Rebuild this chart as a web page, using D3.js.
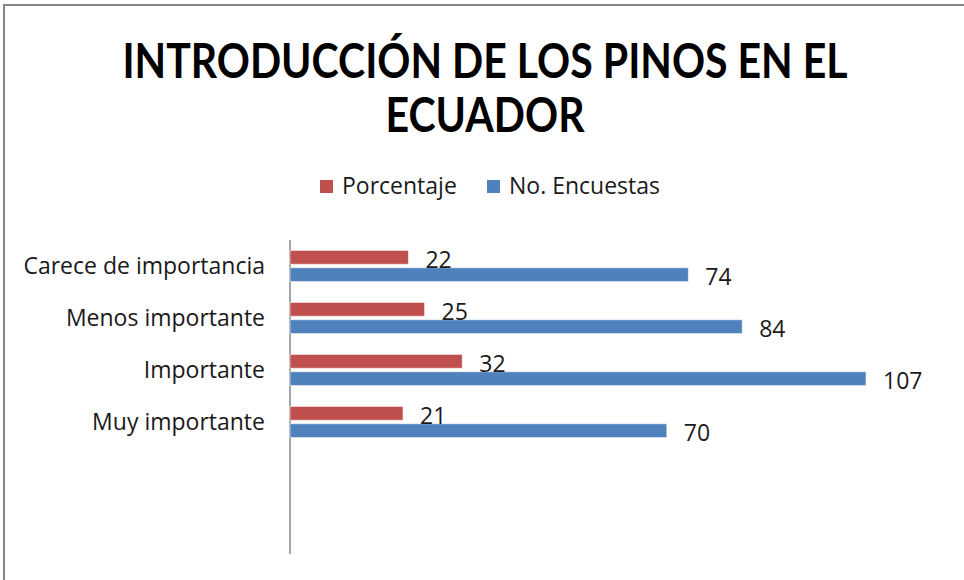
<!DOCTYPE html>
<html>
<head>
<meta charset="utf-8">
<script src="https://cdn.jsdelivr.net/npm/d3@7"></script>
<style>
  body { margin: 0; background: #fff; }
  svg text { font-family: "Open Sans", Lato, sans-serif; }
  svg text.title { font-family: Lato, "Open Sans", sans-serif; }
</style>
</head>
<body>
<svg id="chart" width="964" height="580"></svg>
<script>
// chart values
var categories = ["Carece de importancia", "Menos importante", "Importante", "Muy importante"];
var porcentaje = [22, 25, 32, 21];
var encuestas = [74, 84, 107, 70];
var seriesNames = ["Porcentaje", "No. Encuestas"];
var seriesColors = ["#C0504D", "#4F81BD"];
var titleLines = ["INTRODUCCIÓN DE LOS PINOS EN EL", "ECUADOR"];

var svg = d3.select("#chart");

// chart border (only left/top edges are visible in the crop)
svg.append("rect")
  .attr("x", 4).attr("y", 5)
  .attr("width", 1200).attr("height", 1200)
  .attr("fill", "none")
  .attr("stroke", "#868686")
  .attr("stroke-width", 2);

/* ------ TITLE ------ */
// the original title font is condensed -> squeeze horizontally a bit
var titleSqueeze = 0.855;
svg.selectAll(".title")
  .data(titleLines)
  .enter().append("text")
    .attr("class", "title")
    .attr("transform", function(d, i) { return "translate(485," + (78 + i * 54) + ") scale(" + titleSqueeze + ",1)"; })
    .attr("text-anchor", "middle")
    .attr("font-size", 48)
    .attr("font-weight", 700)
    .attr("fill", "#000")
    .text(function(d) { return d; });

/* ------ LEGEND ------ */
var legendX = [320, 487];
var legend = svg.selectAll(".legend")
  .data(seriesNames)
  .enter().append("g")
    .attr("class", "legend")
    .attr("transform", function(d, i) { return "translate(" + legendX[i] + ",180)"; });

legend.append("rect")
  .attr("width", 13).attr("height", 13)
  .attr("fill", function(d, i) { return seriesColors[i]; });

legend.append("text")
  .attr("x", 22)
  .attr("y", 14)
  .attr("font-size", 23)
  .attr("fill", "#1a1a1a")
  .text(function(d) { return d; });

/* ------ SCALES ------ */
var x = d3.scaleLinear()
  .domain([0, 120])
  .range([290, 936]);

var y = d3.scaleBand()
  .domain(categories)
  .range([240, 448])
  .paddingInner(0.4)
  .paddingOuter(0.2);

var ySub = d3.scaleBand()
  .domain([0, 1])
  .range([0, y.bandwidth()])
  .paddingInner(0.2);

var plotBottom = 554;

// vertical category axis line
svg.append("line")
  .attr("x1", x(0)).attr("x2", x(0))
  .attr("y1", y.range()[0]).attr("y2", plotBottom)
  .attr("stroke", "#868686")
  .attr("stroke-width", 1.5);

// category labels
svg.selectAll(".cat-label")
  .data(categories)
  .enter().append("text")
    .attr("class", "cat-label")
    .attr("x", 265)
    .attr("y", function(d) { return y(d) - y.step() * 0.2 + y.step() / 2; })
    .attr("dy", "0.36em")
    .attr("text-anchor", "end")
    .attr("font-size", 23)
    .attr("fill", "#1a1a1a")
    .text(function(d) { return d; });

/* ------ BARS ------ */
var rows = categories.map(function(c, i) {
  return { category: c, values: [porcentaje[i], encuestas[i]] };
});

var group = svg.selectAll(".cat")
  .data(rows)
  .enter().append("g")
    .attr("class", "cat")
    .attr("transform", function(d) { return "translate(0," + y(d.category) + ")"; });

var bars = group.selectAll(".bar")
  .data(function(d) { return d.values.map(function(v, k) { return { value: v, series: k }; }); })
  .enter();

bars.append("rect")
  .attr("class", "bar")
  .attr("x", x(0))
  .attr("y", function(d) { return ySub(d.series); })
  .attr("width", function(d) { return x(d.value) - x(0); })
  .attr("height", ySub.bandwidth())
  .attr("fill", function(d) { return seriesColors[d.series]; })
  .attr("stroke", "#ffffff")
  .attr("stroke-opacity", 0.6)
  .attr("stroke-width", 1);

bars.append("text")
  .attr("x", function(d) { return x(d.value) + 17; })
  .attr("y", function(d) { return ySub(d.series) + ySub.bandwidth() / 2 + 2; })
  .attr("dy", "0.36em")
  .attr("font-size", 23)
  .attr("fill", "#1a1a1a")
  .text(function(d) { return d.value; });
</script>
</body>
</html>
